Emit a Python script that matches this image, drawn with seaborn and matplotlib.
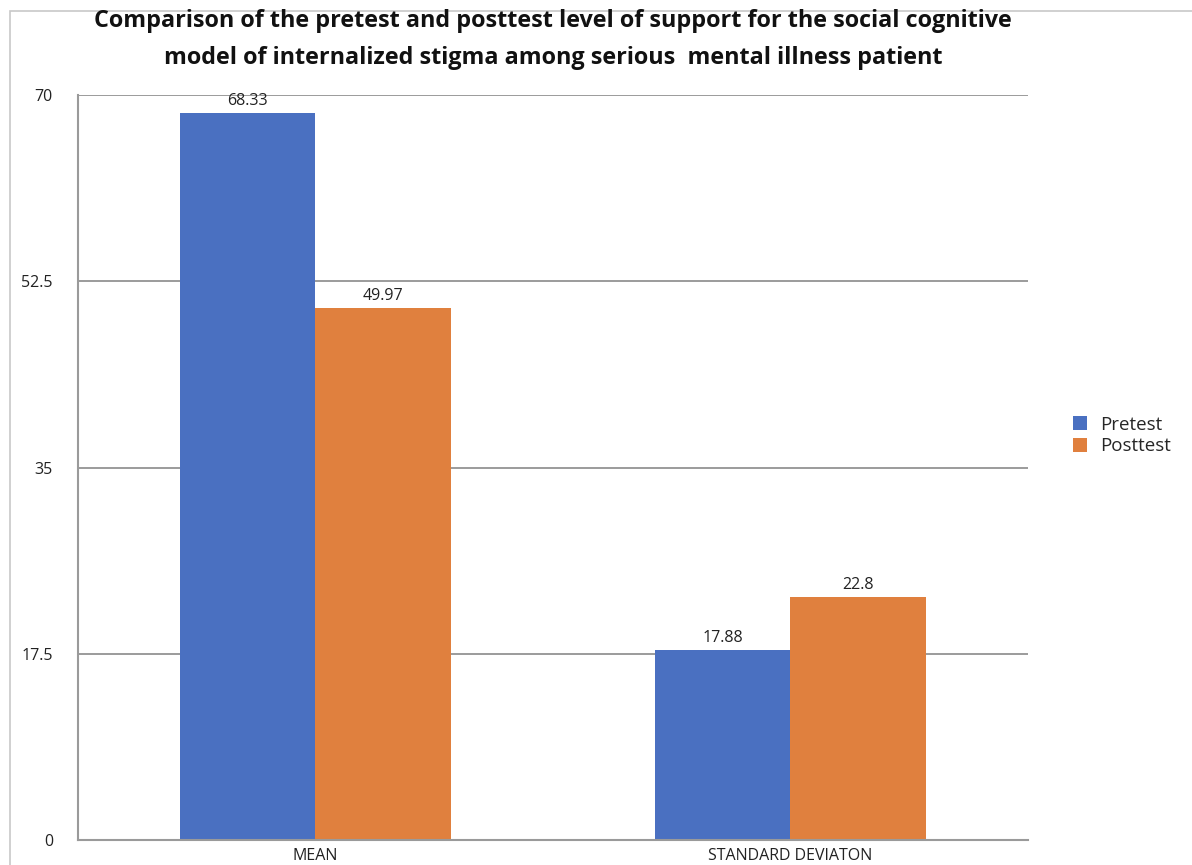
import matplotlib
matplotlib.use("Agg")
import matplotlib.pyplot as plt
import seaborn as sns
import pandas as pd
from matplotlib.patches import Rectangle

categories = ["MEAN", "STANDARD DEVIATON"]
series = ["Pretest", "Posttest"]
pretest = [68.33, 17.88]
posttest = [49.97, 22.8]
yticks = [0, 17.5, 35, 52.5, 70]
colors = ["#4A70C1", "#E0803E"]

df = pd.DataFrame({
    "cat": categories * 2,
    "series": [series[0]] * 2 + [series[1]] * 2,
    "val": pretest + posttest,
})

sns.set_theme(style="white")
plt.rcParams['font.family'] = ['Open Sans', 'DejaVu Sans']

fig = plt.figure(figsize=(11.92, 8.65), dpi=100)
ax = fig.add_axes([0.0654, 0.0289, 0.797, 0.861])

sns.barplot(data=df, x="cat", y="val", hue="series", palette=colors,
            width=0.57, saturation=1, ax=ax, legend=True, linewidth=0)

for c in ax.containers:
    ax.bar_label(c, labels=[f"{v:g}" for v in c.datavalues], padding=3,
                 fontsize=11.5, color="#222222")

ax.set_xlim(-0.5, 1.5)
ax.set_ylim(0, 70)
ax.set_yticks(yticks)
ax.set_yticklabels(["0", "17.5", "35", "52.5", "70"], fontsize=11.5, color="#222222")
ax.tick_params(axis="x", labelsize=11.5, colors="#222222", length=0, pad=6)
ax.tick_params(axis="y", length=0, pad=18)
ax.set_xlabel("")
ax.set_ylabel("")
ax.yaxis.grid(True, color="#8a8a8a", linewidth=1.2)
ax.set_axisbelow(True)
for s in ["top", "right"]:
    ax.spines[s].set_visible(False)
for s in ["left", "bottom"]:
    ax.spines[s].set_color("#9a9a9a")
    ax.spines[s].set_linewidth(1.5)

leg = ax.legend(loc="center left", bbox_to_anchor=(1.03, 0.543), frameon=False,
                fontsize=13.5, handlelength=0.75, handleheight=0.75, handletextpad=0.7,
                labelspacing=0.2)

fig.suptitle("Comparison of the pretest and posttest level of support for the social cognitive\n"
             "model of internalized stigma among serious  mental illness patient",
             x=0.464, y=0.99, fontsize=16.8, fontweight="bold", linespacing=1.75, color="#111111")

fig.patches.append(Rectangle((0.008, -0.01), 1.0, 0.997, transform=fig.transFigure,
                             fill=False, edgecolor="#c8c8c8", linewidth=1.2))

fig.savefig("out.png", dpi=100)
